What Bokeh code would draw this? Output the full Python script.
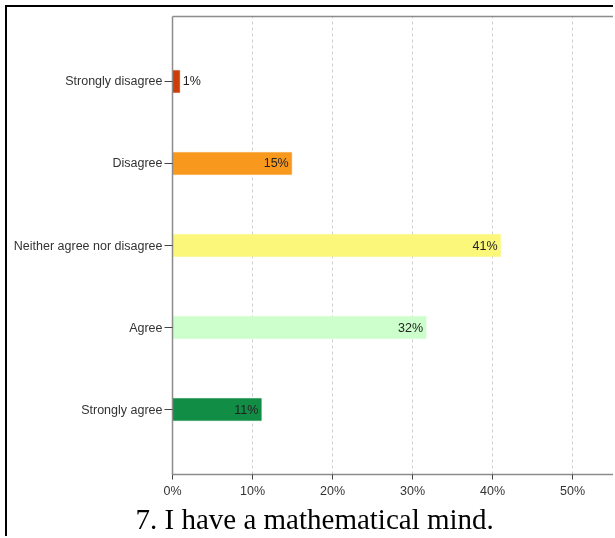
from bokeh.plotting import figure
from bokeh.models import (ColumnDataSource, FactorRange, Range1d, LinearAxis,
                          PrintfTickFormatter, SingleIntervalTicker, FixedTicker,
                          Title)
from bokeh.embed import file_html
from bokeh.resources import INLINE

# ---- data ----
categories = ["Strongly disagree", "Disagree", "Neither agree nor disagree",
              "Agree", "Strongly agree"]
percents = [0.9, 14.9, 41.0, 31.7, 11.1]
bar_labels = ["1%", "15%", "41%", "32%", "11%"]
bar_colors = ["#CC3D0A", "#F8991D", "#FBF77A", "#CCFFCC", "#128D46"]
title_text = "7. I have a mathematical mind."

# ---- figure ----
factors = list(reversed(categories))  # first factor at the bottom
y_range = FactorRange(factors=factors, range_padding=0.2925,
                      range_padding_units="absolute")
x_range = Range1d(0, 55.375)

p = figure(width=608, height=531, y_range=y_range, x_range=x_range,
           output_backend="svg", toolbar_location=None,
           min_border_left=165, min_border_right=0, min_border_top=9,
           min_border_bottom=64,
           styles={"position": "fixed", "left": "5px", "top": "5px",
                   "border-left": "2px solid black",
                   "border-top": "2px solid black"})
p.outline_line_color = None
p.background_fill_color = "white"
p.border_fill_color = "white"

inside = [v >= 5 for v in percents]
src = ColumnDataSource(dict(
    cat=categories, val=percents, lab=bar_labels, col=bar_colors,
    align=["right" if i else "left" for i in inside],
    off=[-3 if i else 3 for i in inside],
))

p.hbar(y="cat", right="val", left=0, height=0.27, fill_color="col",
       line_color="col", line_alpha=0.5, source=src)
p.text(x="val", y="cat", text="lab", text_align="align", x_offset="off",
       text_baseline="middle", text_font_size="12.5px",
       text_font={"value": "Liberation Sans"}, text_color="#222222",
       source=src)

# axes
for ax in (p.xaxis[0], p.yaxis[0]):
    ax.axis_line_color = "#8c8c8c"
    ax.axis_line_width = 1.5
    ax.major_tick_line_color = "#444444"
    ax.minor_tick_line_color = None
    ax.major_tick_in = 0
    ax.major_label_text_font = "Liberation Sans"
    ax.major_label_text_font_size = "12.5px"
    ax.major_label_text_color = "#333333"

p.yaxis.major_tick_out = 8
p.yaxis.major_label_standoff = 2
p.xaxis.major_tick_out = 5
p.xaxis.major_label_standoff = 4
p.xaxis.ticker = SingleIntervalTicker(interval=10, num_minor_ticks=0)
p.xaxis.formatter = PrintfTickFormatter(format="%d%%")

top = LinearAxis(axis_line_color="#8c8c8c", axis_line_width=1.5,
                 ticker=FixedTicker(ticks=[]),
                 major_tick_line_color=None, minor_tick_line_color=None)
p.add_layout(top, "above")

p.xgrid.grid_line_color = "#cfcfcf"
p.xgrid.grid_line_dash = "3 3"
p.xgrid.ticker = SingleIntervalTicker(interval=10, num_minor_ticks=0)
p.ygrid.grid_line_color = None

t = Title(text=title_text, align="left", offset=-37,
          text_font="Liberation Serif", text_font_size="29px",
          text_font_style="normal", text_color="#000000", standoff=0)
p.add_layout(t, "below")

open("out.html", "w").write(file_html(p, INLINE))
